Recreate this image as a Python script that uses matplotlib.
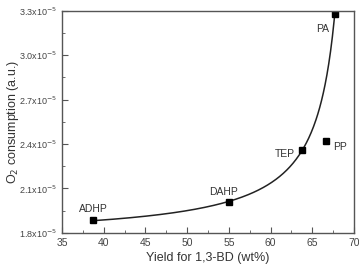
import numpy as np
import matplotlib
matplotlib.use("Agg")
from matplotlib import pyplot as plt
from matplotlib.ticker import MultipleLocator, FuncFormatter

plt.rcParams['font.family'] = ['Liberation Sans', 'DejaVu Sans']

# data
names = ['ADHP', 'DAHP', 'TEP', 'PP', 'PA']
yield_wt = [38.7, 55.0, 63.8, 66.7, 67.7]
o2_use = [1.886e-5, 2.007e-5, 2.36e-5, 2.42e-5, 3.28e-5]
label_xy = [(38.7, 1.962e-5), (54.3, 2.074e-5), (61.7, 2.33e-5),
            (68.3, 2.38e-5), (66.2, 3.175e-5)]
fit_names = ['ADHP', 'DAHP', 'TEP', 'PA']

# hyperbolic fit y = a + b/(c - x) through the fitted samples
fx = np.array([yield_wt[names.index(n)] for n in fit_names])
fy = np.array([o2_use[names.index(n)] for n in fit_names])
best = None
for c in np.linspace(68.0, 75.0, 701):
    u = 1.0 / (c - fx)
    b, a = np.polyfit(u, fy, 1)
    err = np.sum((a + b * u - fy) ** 2)
    if best is None or err < best[0]:
        best = (err, a, b, c)
_, a, b, c = best
xs = np.linspace(fx.min(), fx.max(), 400)
ys = a + b / (c - xs)

fig = plt.figure(figsize=(3.59, 2.73), dpi=100)
ax = fig.add_axes([0.173, 0.147, 0.813, 0.814])

ax.plot(xs, ys, color='#222222', lw=1.1)
ax.plot(yield_wt, o2_use, 's', color='black', ms=4.5)
for n, (tx, ty) in zip(names, label_xy):
    ax.text(tx, ty, n, ha='center', va='center', fontsize=7.5, color='#333333')

ax.set_xlim(35, 70)
ax.set_ylim(1.8e-5, 3.3e-5)
ax.xaxis.set_major_locator(MultipleLocator(5))
ax.xaxis.set_minor_locator(MultipleLocator(2.5))
ax.yaxis.set_major_locator(MultipleLocator(0.3e-5))
ax.yaxis.set_minor_locator(MultipleLocator(0.15e-5))


def sci(v, pos):
    return r'%.1fx10$^{-5}$' % (v / 1e-5)


ax.yaxis.set_major_formatter(FuncFormatter(sci))
ax.tick_params(which='both', direction='in', top=False, right=False,
               color='#555555', labelcolor='#444444')
ax.tick_params(which='major', length=4, labelsize=7.5)
ax.tick_params(axis='y', which='major', labelsize=6.5)
ax.tick_params(which='minor', length=2)
for s in ax.spines.values():
    s.set_color('#555555')
    s.set_linewidth(1.0)

ax.set_xlabel('Yield for 1,3-BD (wt%)', fontsize=9, color='#333333', labelpad=3)
ax.set_ylabel('O$_2$ consumption (a.u.)', fontsize=9, color='#333333')
ax.yaxis.set_label_coords(-0.14, 0.50)

fig.savefig('out.png', dpi=100)
